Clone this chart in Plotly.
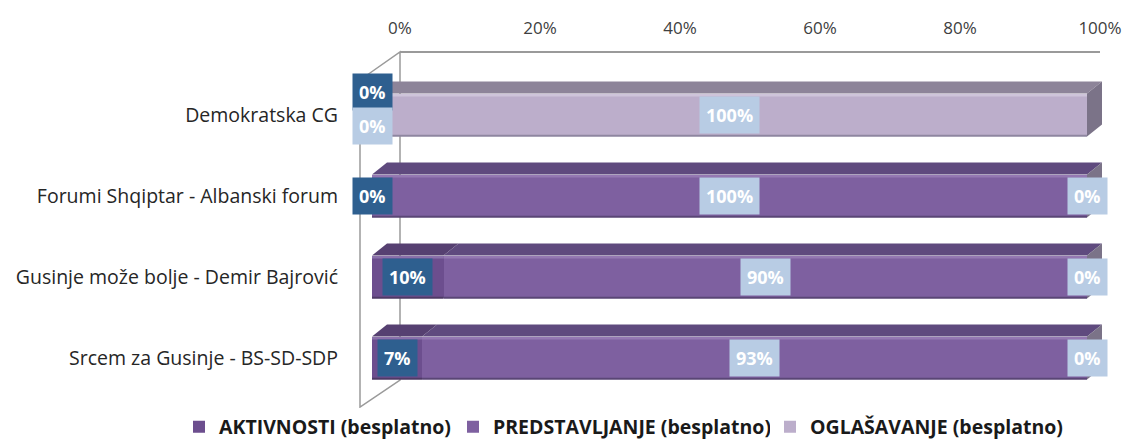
import plotly.graph_objects as go

# data
categories = ["Demokratska CG", "Forumi Shqiptar - Albanski forum",
              "Gusinje može bolje - Demir Bajrović", "Srcem za Gusinje - BS-SD-SDP"]
series_names = ["AKTIVNOSTI (besplatno)", "PREDSTAVLJANJE (besplatno)", "OGLAŠAVANJE (besplatno)"]
aktivnosti = [0, 0, 10, 7]
predstavljanje = [0, 100, 90, 93]
oglasavanje = [100, 0, 0, 0]
x_ticks = [0, 20, 40, 60, 80, 100]

# page body has an 8px margin, so screen px -> figure px needs OFF
OFF = 8
W, H = 1142 - OFF, 439 - OFF
PL, PR, PT, PB = 355, 1110, 52, 412        # plot area on screen
L, R, T, B = PL - OFF, W - (PR - OFF), PT - OFF, H - (PB - OFF)
PX = 7.15                 # px per % on bar axis
BAR0 = 372                # screen px of 0 on bar axis
TICK0, TPX = 400, 7.0     # screen px of 0 on tick axis, px per %
YC0, YSTEP = 115, 81      # screen px of first category center, px per category
BW = 0.53
DX, DY = 15 / PX, 12 / YSTEP
FONT = "Open Sans, Lato, sans-serif"
LEG_TEXT_X = [219, 493, 810]   # screen px where each legend text starts

face = ["#6C4E8E", "#7E60A0", "#BCAECB"]
top = ["#564071", "#5F4A7E", "#8D8499"]
hilite = ["#8A70AA", "#9478B2", "#CEC4DA"]
edge = ["#4E3A66", "#5A4676", "#8E86A0"]
lab_bg = ["#2E5F8F", "#B8CCE4", "#B8CCE4"]
cap_col = "#7B7388"

plot_w = PR - PL
plot_h = PB - PT
x_range = [(PL - BAR0) / PX, (PR - BAR0) / PX]
x2_range = [(PL - TICK0) / TPX, (PR - TICK0) / TPX]
y_range = [(PB - YC0) / YSTEP, (PT - YC0) / YSTEP]


def px(x):
    return (x - PL) / plot_w


def py(y):
    return (PB - y) / plot_h


values = [aktivnosti, predstavljanje, oglasavanje]
legend_ids = ["legend", "legend2", "legend3"]
fig = go.Figure()
for s, name in enumerate(series_names):
    fig.add_trace(go.Bar(
        y=list(range(len(categories))), x=values[s], name=name, orientation="h",
        marker=dict(color=face[s], line=dict(width=0)), width=BW, legend=legend_ids[s],
    ))
fig.add_trace(go.Scatter(x=[0, 100], y=[0, 0], xaxis="x2", mode="markers",
                         marker=dict(opacity=0), showlegend=False, hoverinfo="skip"))

shapes = []
# wall
shapes.append(dict(type="path", xref="paper", yref="paper",
                   path=f"M{px(360)},{py(80)} L{px(400)},{py(52)} L{px(400)},{py(380)} L{px(360)},{py(407)} Z",
                   line=dict(color="#9A9A9A", width=1.5), fillcolor="rgba(0,0,0,0)", layer="below"))
# top axis line
shapes.append(dict(type="line", xref="x2", yref="paper", x0=0, x1=100, y0=1, y1=1,
                   line=dict(color="#9A9A9A", width=2)))

annotations = []
for i in range(len(categories)):
    cum = 0
    yt = i - BW / 2
    yb = i + BW / 2
    for s in range(3):
        v = values[s][i]
        x0, x1 = cum, cum + v
        if v > 0:
            shapes.append(dict(type="path", xref="x", yref="y",
                               path=f"M{x0},{yt} L{x1},{yt} L{x1 + DX},{yt - DY} L{x0 + DX},{yt - DY} Z",
                               fillcolor=top[s], line=dict(width=0)))
            shapes.append(dict(type="line", xref="x", yref="y", x0=x0, x1=x1, y0=yt + 0.02, y1=yt + 0.02,
                               line=dict(color=hilite[s], width=2.5)))
            shapes.append(dict(type="line", xref="x", yref="y", x0=x0, x1=x1, y0=yb - 0.01, y1=yb - 0.01,
                               line=dict(color=edge[s], width=2)))
        cum = x1
    # end cap
    shapes.append(dict(type="path", xref="x", yref="y",
                       path=f"M{cum},{yt} L{cum + DX},{yt - DY} L{cum + DX},{yb - DY} L{cum},{yb} Z",
                       fillcolor=cap_col, line=dict(width=0)))
    # labels
    cum = 0
    zero_left = [s for s in range(3) if values[s][i] == 0 and sum(values[k][i] for k in range(s)) == 0]
    for s in range(3):
        v = values[s][i]
        xm = cum + v / 2
        shift = 0
        if len(zero_left) > 1 and s in zero_left:
            shift = 23 if s == zero_left[0] else -11
        annotations.append(dict(
            x=xm, y=i, xref="x", yref="y", text=f"<b>{v}%</b>", showarrow=False,
            font=dict(family=FONT, size=18, color="white"),
            bgcolor=lab_bg[s], borderpad=6, yshift=shift,
        ))
        cum += v

legends = {}
for s, lid in enumerate(legend_ids):
    legends[lid] = dict(orientation="h", xref="container", yref="paper",
                        x=(LEG_TEXT_X[s] - 40 - OFF) / W, y=(PB - 427) / plot_h,
                        xanchor="left", yanchor="middle",
                        font=dict(size=19.5, color="#1a1a1a", family=FONT, weight="bold"))

fig.update_layout(
    width=W, height=H,
    margin=dict(l=L, r=R, t=T, b=B, autoexpand=False),
    paper_bgcolor="white", plot_bgcolor="white",
    barmode="stack", bargap=0,
    font=dict(family=FONT, size=17, color="#262626"),
    xaxis=dict(range=x_range, visible=False, fixedrange=True, automargin=False),
    xaxis2=dict(range=x2_range, overlaying="x", side="top", tickvals=x_ticks,
                ticktext=[f"{t}%" for t in x_ticks], showgrid=False, zeroline=False,
                showline=False, ticks="", ticklabelstandoff=14, automargin=False,
                tickfont=dict(size=17, color="#404040")),
    yaxis=dict(range=y_range, tickvals=list(range(len(categories))), ticktext=categories,
               showgrid=False, zeroline=False, showline=False, ticks="", automargin=False,
               ticklabelstandoff=16, tickfont=dict(size=19.5, color="#262626")),
    shapes=shapes,
    annotations=annotations,
    showlegend=True,
    **legends,
)

fig.write_html("out.html")
